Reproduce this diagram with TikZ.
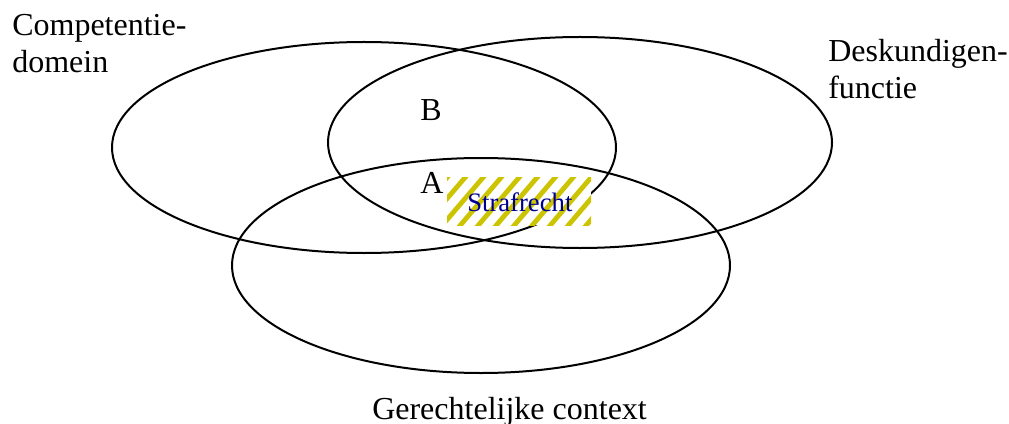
\documentclass[tikz,border=0pt]{standalone}
\usepackage{fontspec}
\setmainfont{Liberation Serif}
\usepackage{xcolor}
\usetikzlibrary{positioning}
\definecolor{stripec}{HTML}{CCC400}
\definecolor{navyc}{HTML}{000090}
\tikzset{
  ring/.style={draw=black,line width=1.5pt},
  lbl/.style={inner sep=0pt,font=\fontsize{24}{27.5}\selectfont,align=left},
  tag/.style={inner sep=0pt,font=\fontsize{24}{27.5}\selectfont,anchor=base west}
}
\begin{document}
\begin{tikzpicture}[x=0.75pt,y=-0.75pt]
\useasboundingbox (0,0) rectangle (1009,424);
% three circles of the diagram
\draw[ring] (364,147.5) ellipse (252 and 105.5);
\draw[ring] (580,142.5) ellipse (252 and 105.5);
\draw[ring] (481,265.5) ellipse (249 and 107.5);
% striped field
\fill[white] (447,177) rectangle (591,225);
\begin{scope}
 \clip (447,177) rectangle (591,225);
 \foreach \s in {380,398,...,600}{
  \draw[stripec,line width=3.6pt] (\s,235)--(\s+58,167);}
\end{scope}
\node[anchor=base west,inner sep=0pt,font=\fontsize{20}{24}\selectfont,text=navyc] (straf) at (467,211) {Strafrecht};
% labels
\node[lbl,anchor=north west] (comp) at (12,14.5) {Competentie-\\domein};
\node[lbl,anchor=north west] (desk) at (828,39) {Deskundigen-\\functie};
\node[tag] (lblB) at (420,121) {B};
\node[tag] (lblA) at (420,193) {A};
\node[tag] (ger) at (372,419) {Gerechtelijke context};
\end{tikzpicture}
\end{document}
